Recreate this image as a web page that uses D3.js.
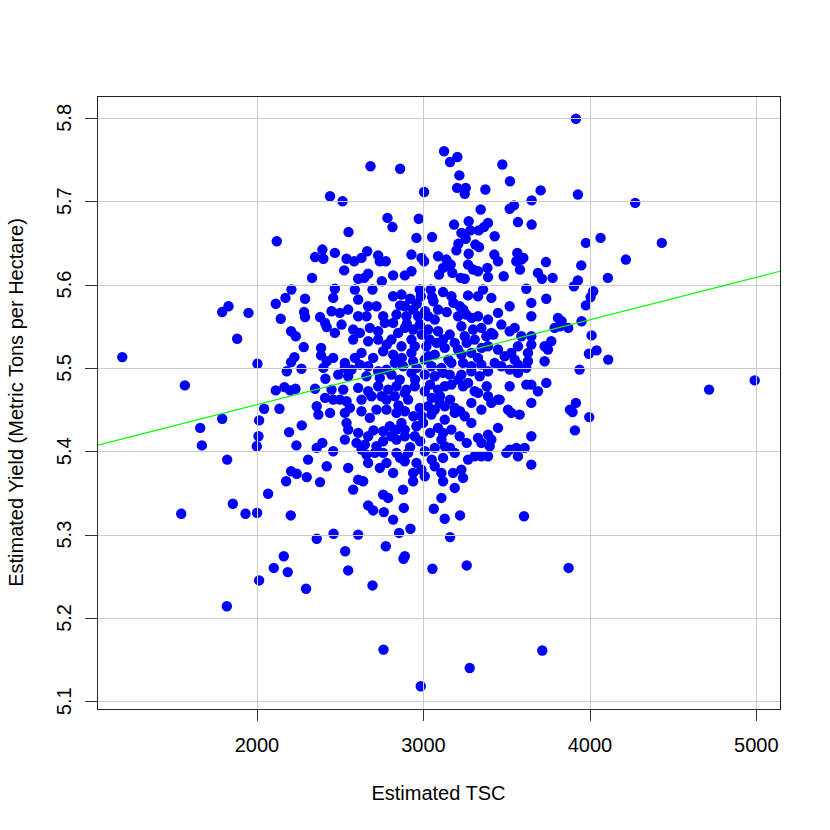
<!DOCTYPE html>
<html lang="en">

<head>
    <meta charset="UTF-8">
    <meta name="viewport" content="width=device-width, initial-scale=1.0">
    <script src="https://d3js.org/d3.v7.min.js"></script>
    <title>Estimated Yield vs Estimated TSC</title>
    <style>
        body {
            margin: 0;
            background: white;
        }

        text {
            font-family: "Liberation Sans", Arial, Helvetica, sans-serif;
            font-size: 20px;
            fill: black;
        }
    </style>
</head>

<body>
<div class="figure"></div>

<script>
    /*------------------- Data --------------------*/
    const xTicks = [2000, 3000, 4000, 5000];
    const yTicks = [5.1, 5.2, 5.3, 5.4, 5.5, 5.6, 5.7, 5.8];
    const xLabel = "Estimated TSC";
    const yLabel = "Estimated Yield (Metric Tons per Hectare)";

    // regression line: intercept, slope
    const fitCoef = [5.3541, 0.00005093];

    // [Estimated TSC, Estimated Yield]
    const points = [
        [2439,5.706],[2119,5.652],[2393,5.642],[2349,5.633],[2399,5.631],[2331,5.608],[2207,5.594],[2171,5.584],[2289,5.583],[2113,5.577],
        [3124,5.760],[3204,5.753],[3160,5.747],[2682,5.742],[2860,5.739],[3474,5.744],[3216,5.731],[3520,5.724],[3202,5.716],[3254,5.716],
        [3248,5.709],[3372,5.714],[3704,5.713],[3004,5.711],[2514,5.700],[3650,5.701],[3518,5.691],[3544,5.695],[3344,5.690],[2784,5.680],
        [2814,5.669],[2972,5.679],[3568,5.675],[3650,5.672],[3184,5.672],[3272,5.676],[3388,5.674],[3364,5.669],[3332,5.665],[3282,5.665],
        [3228,5.662],[3254,5.655],[2550,5.663],[2958,5.656],[3052,5.657],[3428,5.658],[3210,5.649],[3198,5.641],[3312,5.648],[3334,5.645],
        [3272,5.637],[3426,5.636],[3448,5.628],[3564,5.638],[3588,5.630],[3558,5.628],[3600,5.632],[3736,5.627],[2928,5.636],[2988,5.632],
        [3004,5.628],[3088,5.634],[3138,5.630],[3164,5.624],[2468,5.638],[2538,5.631],[2584,5.628],[2628,5.632],[2662,5.640],[2728,5.635],
        [2738,5.628],[2774,5.628],[2524,5.617],[2608,5.607],[2668,5.613],[2644,5.608],[2750,5.604],[2818,5.611],[2888,5.611],[2928,5.616],
        [3094,5.612],[3118,5.620],[3152,5.622],[3174,5.614],[3268,5.624],[3298,5.618],[3328,5.616],[3384,5.620],[3388,5.609],[3482,5.610],
        [3580,5.618],[3688,5.614],[3712,5.607],[3776,5.608],[3224,5.608],[3248,5.607],[2468,5.595],[2458,5.584],[2588,5.594],[2608,5.582],
        [2694,5.594],[2818,5.586],[2868,5.588],[2978,5.594],[2984,5.586],[3044,5.594],[3052,5.585],[3118,5.591],[3168,5.586],[3268,5.587],
        [3328,5.586],[3358,5.594],[3408,5.584],[3618,5.595],[3738,5.583],[3648,5.578],
        [3916,5.799],[3928,5.708],[4272,5.698],[4064,5.656],[3976,5.650],[4432,5.650],[4216,5.630],[3948,5.623],[3928,5.605],[3904,5.598],
        [4108,5.608],[4020,5.592],[4004,5.585],[3976,5.575],
        [1191,5.513],[1567,5.479],[1791,5.567],[1829,5.574],[1949,5.566],[1881,5.535],[2003,5.505],[1659,5.428],[1791,5.439],[1669,5.407],
        [1821,5.390],[2013,5.437],[2009,5.418],[1999,5.406],[2043,5.451],[2067,5.349],[1855,5.337],[2143,5.559],[2283,5.567],[2289,5.561],
        [2379,5.561],[2409,5.554],[2419,5.549],[2205,5.544],[2233,5.538],[2281,5.525],[2225,5.513],[2205,5.507],[2267,5.499],[2179,5.496],
        [2385,5.524],[2385,5.515],[2419,5.508],[2399,5.500],[2411,5.487],[2113,5.473],[2165,5.477],[2199,5.473],[2231,5.475],[2349,5.475],
        [2135,5.451],[2359,5.454],[2369,5.444],[2409,5.464],[2439,5.446],[2269,5.431],[2193,5.423],[2237,5.407],[2359,5.404],[2393,5.410],
        [2307,5.390],[2419,5.382],[2205,5.376],[2239,5.373],[2299,5.369],[2175,5.364],[2379,5.363],
        [2448,5.568],[2498,5.566],[2548,5.570],[2668,5.574],[2718,5.574],[2888,5.574],[2938,5.570],[3088,5.570],[3218,5.574],[3448,5.566],
        [3518,5.574],[3648,5.562],[3808,5.560],
        [2608,5.562],[2658,5.562],[2758,5.562],[2838,5.564],[2898,5.562],[2968,5.562],[3028,5.562],[3068,5.558],[3208,5.562],[3258,5.564],
        [3328,5.562],[3388,5.558],
        [2508,5.552],[2578,5.546],[2618,5.542],[2678,5.548],[2728,5.544],[2768,5.554],[2818,5.554],[2848,5.542],[2888,5.548],[2938,5.546],
        [2978,5.552],[3028,5.546],[3088,5.544],[3158,5.540],[3228,5.550],[3248,5.538],[3298,5.546],[3348,5.548],[3408,5.542],[3468,5.552],
        [3518,5.544],[3548,5.548],[3588,5.538],[3648,5.538],[3788,5.548],
        [2468,5.542],[2578,5.534],[2668,5.532],[2728,5.534],[2808,5.534],[2928,5.534],[3038,5.534],[3118,5.534],[3188,5.530],[3308,5.534],
        [3378,5.538],[3648,5.528],[3768,5.532],
        [2458,5.512],[2528,5.506],[2588,5.512],[2628,5.518],[2698,5.512],[2758,5.520],[2818,5.516],[2868,5.526],[2928,5.518],[2948,5.526],
        [3018,5.526],[3068,5.516],[3128,5.524],[3208,5.522],[3228,5.516],[3288,5.518],[3328,5.512],[3388,5.526],[3448,5.522],[3488,5.514],
        [3528,5.518],[3568,5.526],[3548,5.510],[3628,5.518],[3728,5.526],[3748,5.522],[3728,5.508],
        [2528,5.500],[2568,5.498],[2618,5.504],[2668,5.502],[2728,5.496],[2778,5.498],[2828,5.506],[2878,5.502],[2938,5.508],[3008,5.510],
        [3048,5.502],[3108,5.500],[3168,5.506],[3238,5.506],[3288,5.502],[3348,5.504],[3428,5.506],[3468,5.502],[3518,5.498],[3568,5.504],
        [3618,5.500],[3628,5.508],
        [2488,5.492],[2548,5.490],[2658,5.490],[2738,5.488],[2808,5.492],[2858,5.486],[2928,5.494],[3008,5.492],[3068,5.490],[3118,5.494],
        [3158,5.492],[3228,5.492],[3288,5.496],[3338,5.490],[3388,5.496],[3518,5.478],[3568,5.494],[3618,5.480],[3648,5.480],[3688,5.472],
        [3738,5.482],
        [2448,5.474],[2518,5.474],[2608,5.476],[2668,5.472],[2728,5.478],[2788,5.474],[2838,5.478],[2898,5.474],[2948,5.478],[3008,5.472],
        [3088,5.474],[3128,5.478],[3168,5.480],[3238,5.478],[3268,5.482],[3308,5.472],[3328,5.470],[3388,5.466],[3448,5.462],
        [2458,5.462],[2498,5.462],[2538,5.460],[2628,5.462],[2688,5.466],[2748,5.466],[2778,5.462],[2828,5.466],[2888,5.470],[2908,5.462],
        [2978,5.452],[3028,5.454],[3068,5.450],[3098,5.458],[3128,5.454],[3188,5.452],[3248,5.442],[3288,5.458],[3348,5.450],[3408,5.458],
        [3458,5.462],[3508,5.450],[3528,5.446],[3578,5.444],[3648,5.458],
        [2528,5.446],[2558,5.452],[2628,5.448],[2678,5.440],[2718,5.450],[2778,5.450],[2838,5.446],[2888,5.448],[2988,5.442],[3048,5.444],
        [3128,5.438],[3188,5.446],[3288,5.434],
        [2538,5.434],[2548,5.426],[2608,5.422],[2668,5.418],[2758,5.424],[2798,5.430],[2838,5.426],[2868,5.434],[2888,5.426],[2958,5.430],
        [2998,5.434],[3088,5.428],[3118,5.422],[3168,5.426],[3218,5.418],[3328,5.416],[3388,5.420],[3448,5.428],[3648,5.418],
        [2528,5.414],[2598,5.410],[2648,5.408],[2718,5.406],[2758,5.412],[2808,5.418],[2838,5.414],[2888,5.418],[2948,5.418],[3108,5.414],
        [3128,5.406],[3348,5.410],[3398,5.406],[3408,5.414],
        [2458,5.400],[2628,5.402],[2658,5.396],[2708,5.398],[2758,5.398],[2838,5.398],[2908,5.398],[3008,5.400],[3068,5.404],[3118,5.392],
        [3188,5.398],[3268,5.390],[3308,5.394],[3348,5.394],[3388,5.394],[3498,5.398],[3518,5.402],[3558,5.404],[3608,5.404],[3648,5.384],
        [3568,5.394],
        [2548,5.380],[2668,5.386],[2738,5.380],[2778,5.386],[2818,5.374],[2888,5.388],[2938,5.374],[2958,5.386],[2988,5.378],[3008,5.370],
        [3068,5.382],[3108,5.374],[3178,5.374],[3228,5.378],[3238,5.368],
        [2608,5.366],[2638,5.364],[2578,5.354],[2758,5.348],[2788,5.344],[2878,5.354],[2938,5.364],[3118,5.364],[3188,5.356],[3108,5.344],
        [2860,5.575],[2920,5.583],[2960,5.577],[3010,5.568],[3060,5.580],[3140,5.567],[3180,5.578],[3240,5.570],[3290,5.560],[2900,5.553],
        [2870,5.512],[2960,5.500],[3030,5.514],[3080,5.530],[3150,5.510],[3260,5.530],[3350,5.524],[3420,5.540],[2990,5.540],[2780,5.528],
        [2950,5.486],[3040,5.480],[3100,5.466],[3160,5.462],[3210,5.486],[3050,5.464],[2850,5.455],[2940,5.442],[3220,5.448],[3380,5.478],
        [2920,5.405],[2980,5.412],[3040,5.422],[3160,5.404],[3260,5.410],[2860,5.392],[3050,5.390],[2700,5.425],
        [4716,5.474],[4990,5.485],[4110,5.510],[4040,5.521],[3994,5.517],[4010,5.539],[3938,5.498],[3916,5.458],[3880,5.450],[3896,5.447],
        [3996,5.441],[3910,5.425],[3950,5.556],[3830,5.556],[3820,5.550],[3870,5.548],
        [1545,5.325],[1931,5.325],[2001,5.326],[2203,5.323],[2359,5.295],[2161,5.274],[2101,5.260],[2185,5.255],[2013,5.245],[2295,5.235],
        [1819,5.214],
        [2668,5.335],[2698,5.329],[2762,5.327],[2818,5.318],[2882,5.332],[3062,5.331],[3128,5.319],[3220,5.323],[3604,5.322],[2460,5.301],
        [2608,5.300],[2854,5.302],[2922,5.307],[3160,5.297],[2530,5.280],[2774,5.286],[2880,5.271],[2888,5.274],[2548,5.257],[3054,5.259],
        [3260,5.263],[2694,5.239],[2760,5.162],[3714,5.161],[3278,5.140],[2984,5.118],
        [3872,5.260]
    ];

    /*------------------- Layout --------------------*/
    const width = 830;
    const height = 830;
    const margin = { top: 96, right: 50, bottom: 121, left: 97 };

    // R style range: data extent widened by 4% on each side
    function paddedExtent(values) {
        const [lo, hi] = d3.extent(values);
        const pad = (hi - lo) * 0.04;
        return [lo - pad, hi + pad];
    }

    const x = d3.scaleLinear()
        .domain(paddedExtent(points.map(d => d[0])))
        .range([margin.left, width - margin.right]);

    const y = d3.scaleLinear()
        .domain(paddedExtent(points.map(d => d[1])))
        .range([height - margin.bottom, margin.top]);

    const svg = d3.select(".figure").append("svg")
        .attr("width", width)
        .attr("height", height);

    const x0 = margin.left, x1 = width - margin.right;
    const y0 = margin.top, y1 = height - margin.bottom;

    // points
    svg.append("g")
        .selectAll("circle")
        .data(points)
        .join("circle")
        .attr("cx", d => x(d[0]))
        .attr("cy", d => y(d[1]))
        .attr("r", 5.2)
        .attr("fill", "#0000ff");

    // grid, drawn after the points like grid() in R
    const grid = svg.append("g")
        .attr("stroke", "#cccccc")
        .attr("stroke-width", 1);

    grid.selectAll(".vx")
        .data(xTicks)
        .join("line")
        .attr("x1", d => Math.round(x(d)) + 0.5)
        .attr("x2", d => Math.round(x(d)) + 0.5)
        .attr("y1", y0)
        .attr("y2", y1);

    grid.selectAll(".hy")
        .data(yTicks)
        .join("line")
        .attr("x1", x0)
        .attr("x2", x1)
        .attr("y1", d => Math.round(y(d)) + 0.5)
        .attr("y2", d => Math.round(y(d)) + 0.5);

    // fitted line, clipped to the plot box
    svg.append("clipPath")
        .attr("id", "plot-clip")
        .append("rect")
        .attr("x", x0)
        .attr("y", y0)
        .attr("width", x1 - x0)
        .attr("height", y1 - y0);

    const [xa, xb] = x.domain();
    svg.append("line")
        .attr("clip-path", "url(#plot-clip)")
        .attr("x1", x(xa))
        .attr("y1", y(fitCoef[0] + fitCoef[1] * xa))
        .attr("x2", x(xb))
        .attr("y2", y(fitCoef[0] + fitCoef[1] * xb))
        .attr("stroke", "#00ff00")
        .attr("stroke-width", 1.2);

    // box
    svg.append("rect")
        .attr("x", x0 + 0.5)
        .attr("y", y0 + 0.5)
        .attr("width", x1 - x0)
        .attr("height", y1 - y0)
        .attr("fill", "none")
        .attr("stroke", "#222")
        .attr("stroke-width", 1);

    /*------------------- Axes --------------------*/
    const tickLen = 12;
    const axisColor = "#333";

    const xAxis = svg.append("g");
    xAxis.append("line")
        .attr("x1", x(xTicks[0]))
        .attr("x2", x(xTicks[xTicks.length - 1]))
        .attr("y1", y1 + 0.5)
        .attr("y2", y1 + 0.5)
        .attr("stroke", axisColor);
    xAxis.selectAll("line.tick")
        .data(xTicks)
        .join("line")
        .attr("class", "tick")
        .attr("x1", d => Math.round(x(d)) + 0.5)
        .attr("x2", d => Math.round(x(d)) + 0.5)
        .attr("y1", y1)
        .attr("y2", y1 + tickLen)
        .attr("stroke", axisColor);
    xAxis.selectAll("text")
        .data(xTicks)
        .join("text")
        .attr("x", d => x(d))
        .attr("y", y1 + 43)
        .attr("text-anchor", "middle")
        .text(d => d);

    const yAxis = svg.append("g");
    yAxis.append("line")
        .attr("x1", x0 + 0.5)
        .attr("x2", x0 + 0.5)
        .attr("y1", y(yTicks[0]))
        .attr("y2", y(yTicks[yTicks.length - 1]))
        .attr("stroke", axisColor);
    yAxis.selectAll("line.tick")
        .data(yTicks)
        .join("line")
        .attr("class", "tick")
        .attr("x1", x0 - tickLen)
        .attr("x2", x0)
        .attr("y1", d => Math.round(y(d)) + 0.5)
        .attr("y2", d => Math.round(y(d)) + 0.5)
        .attr("stroke", axisColor);
    yAxis.selectAll("text")
        .data(yTicks)
        .join("text")
        .attr("transform", d => `translate(${x0 - 26},${y(d)}) rotate(-90)`)
        .attr("text-anchor", "middle")
        .text(d => d.toFixed(1));

    // titles
    svg.append("text")
        .attr("x", (x0 + x1) / 2)
        .attr("y", 800)
        .attr("text-anchor", "middle")
        .text(xLabel);

    svg.append("text")
        .attr("transform", `translate(23,${(y0 + y1) / 2}) rotate(-90)`)
        .attr("text-anchor", "middle")
        .text(yLabel);
</script>
</body>

</html>
